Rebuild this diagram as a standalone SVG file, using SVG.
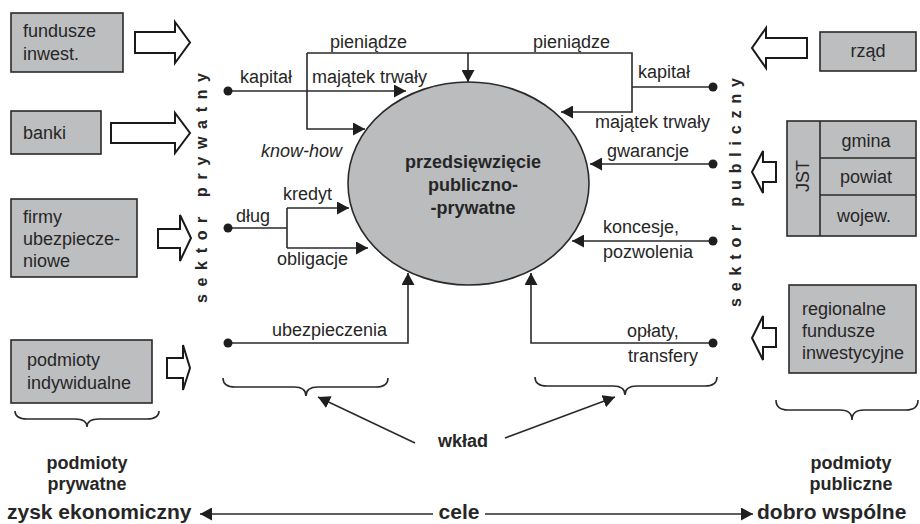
<svg xmlns="http://www.w3.org/2000/svg" width="920" height="524" viewBox="0 0 920 524">
  <defs>
    <marker id="tri" markerUnits="userSpaceOnUse" markerWidth="13" markerHeight="13" refX="12" refY="6.5" orient="auto">
      <path d="M0,0 L12,6.5 L0,13 Z" fill="#1e1e1e"/>
    </marker>
    <style>
      text { font-family: "Liberation Sans", Arial, sans-serif; fill: #262626; }
      .lbl { font-size: 18px; }
      .b { font-weight: bold; }
      .big { font-size: 21px; font-weight: bold; }
      .it { font-style: italic; }
      .mid { text-anchor: middle; }
      .end { text-anchor: end; }
      .sect { font-size: 16px; font-weight: bold; }
      .box { fill: #bdbec0; stroke: #2a2a2a; stroke-width: 1.6; }
      .barrow { fill: #ffffff; stroke: #1a1a1a; stroke-width: 2; stroke-linejoin: miter; }
      .ln { fill: none; stroke: #2a2a2a; stroke-width: 1.6; }
      .arr { marker-end: url(#tri); }
      .dot { fill: #1e1e1e; }
      .brace { fill: none; stroke: #2a2a2a; stroke-width: 1.6; }
    </style>
  </defs>
  <rect width="920" height="524" fill="#ffffff"/>

  <!-- private sector entities -->
  <g id="fundusze-inwest">
    <rect class="box" x="11" y="13" width="112" height="59"/>
    <text class="lbl" x="23" y="37">fundusze</text>
    <text class="lbl" x="23" y="60">inwest.</text>
    <polygon class="barrow" points="135,32 175,32 175,22 190,42.5 175,63 175,53 135,53"/>
  </g>
  <g id="banki">
    <rect class="box" x="11" y="111" width="90" height="43"/>
    <text class="lbl" x="23" y="139">banki</text>
    <polygon class="barrow" points="111,123 175,123 175,113 190,133 175,153 175,143 111,143"/>
  </g>
  <g id="firmy-ubezpieczeniowe">
    <rect class="box" x="11" y="199" width="126" height="78"/>
    <text class="lbl" x="23" y="223">firmy</text>
    <text class="lbl" x="23" y="245">ubezpiecze-</text>
    <text class="lbl" x="23" y="267">niowe</text>
    <polygon class="barrow" points="158,229 180,229 180,215 191,238 180,261 180,248 158,248"/>
  </g>
  <g id="podmioty-indywidualne">
    <rect class="box" x="11" y="340" width="141" height="63"/>
    <text class="lbl" x="27" y="366">podmioty</text>
    <text class="lbl" x="27" y="389">indywidualne</text>
    <polygon class="barrow" points="167,358 183,358 183,345 190,368 183,390 183,378 167,378"/>
  </g>

  <!-- public sector entities -->
  <g id="rzad">
    <rect class="box" x="820" y="32" width="96" height="39"/>
    <text class="lbl mid" x="868" y="57">rząd</text>
    <polygon class="barrow" points="807,38 766,38 766,28 752,48 766,68 766,58 807,58"/>
  </g>
  <g id="jst">
    <rect class="box" x="787" y="121" width="129" height="115"/>
    <line class="ln" x1="820" y1="121" x2="820" y2="236"/>
    <line class="ln" x1="820" y1="158" x2="916" y2="158"/>
    <line class="ln" x1="820" y1="195" x2="916" y2="195"/>
    <text class="lbl mid" transform="translate(809,176) rotate(-90)">JST</text>
    <text class="lbl mid" x="866" y="147">gmina</text>
    <text class="lbl mid" x="866" y="183">powiat</text>
    <text class="lbl mid" x="864" y="222">wojew.</text>
    <polygon class="barrow" points="776,162 763,162 763,151 752,172 763,193 763,182 776,182"/>
  </g>
  <g id="regionalne-fundusze">
    <rect class="box" x="789" y="285" width="127" height="88"/>
    <text class="lbl" x="802" y="315">regionalne</text>
    <text class="lbl" x="802" y="337">fundusze</text>
    <text class="lbl" x="802" y="359">inwestycyjne</text>
    <polygon class="barrow" points="776,328 763,328 763,316 752,338 763,360 763,347 776,347"/>
  </g>

  <!-- sector captions -->
  <g id="sektor-prywatny">
    <text class="sect" transform="translate(207,303) rotate(-90)" textLength="230" lengthAdjust="spacing">sektor prywatny</text>
  </g>
  <g id="sektor-publiczny">
    <text class="sect" transform="translate(741,307) rotate(-90)" textLength="229" lengthAdjust="spacing">sektor publiczny</text>
  </g>

  <!-- central project -->
  <g id="ppp">
    <ellipse cx="468.5" cy="183.5" rx="120.5" ry="101.5" fill="#bbbcbe" stroke="#2a2a2a" stroke-width="1.6"/>
    <text class="lbl b mid" x="473" y="168">przedsięwzięcie</text>
    <text class="lbl b mid" x="473" y="191">publiczno-</text>
    <text class="lbl b mid" x="473" y="214">-prywatne</text>
  </g>

  <!-- flows -->
  <g id="connectors">
    <path class="ln arr" d="M307,53 H632 V112 H561"/>
    <path class="ln arr" d="M468,53 V82"/>
    <path class="ln arr" d="M307,53 V129 H365"/>
    <path class="ln arr" d="M228,91 H406"/>
    <path class="ln" d="M632,87 H713"/>
    <path class="ln arr" d="M713,164 H590"/>
    <path class="ln arr" d="M713,241 H572"/>
    <path class="ln arr" d="M713,343 H531 V273"/>
    <path class="ln arr" d="M228,343 H408 V273"/>
    <path class="ln" d="M228,228 H287 M287,208 V248"/>
    <path class="ln arr" d="M287,208 H349"/>
    <path class="ln arr" d="M287,248 H368"/>
    <path class="ln arr" d="M415,443 L318,397"/>
    <path class="ln arr" d="M505,438 L615,397"/>
    <path class="ln arr" d="M433,514 H200"/>
    <path class="ln arr" d="M485,514 H753"/>
    <circle class="dot" cx="228" cy="91" r="4.5"/>
    <circle class="dot" cx="228" cy="228" r="4.5"/>
    <circle class="dot" cx="228" cy="343" r="4.5"/>
    <circle class="dot" cx="713" cy="87" r="4.5"/>
    <circle class="dot" cx="713" cy="164" r="4.5"/>
    <circle class="dot" cx="713" cy="241" r="4.5"/>
    <circle class="dot" cx="713" cy="343" r="4.5"/>
  </g>

  <!-- flow labels -->
  <g id="flow-labels">
    <text class="lbl" x="330" y="48">pieniądze</text>
    <text class="lbl" x="533" y="48">pieniądze</text>
    <text class="lbl" x="240" y="83">kapitał</text>
    <text class="lbl" x="312" y="83">majątek trwały</text>
    <text class="lbl" x="638" y="78">kapitał</text>
    <text class="lbl end" x="710" y="128">majątek trwały</text>
    <text class="lbl it" x="261" y="157">know-how</text>
    <text class="lbl" x="607" y="157">gwarancje</text>
    <text class="lbl" x="236" y="222">dług</text>
    <text class="lbl" x="283" y="200">kredyt</text>
    <text class="lbl" x="277" y="265">obligacje</text>
    <text class="lbl" x="603" y="233">koncesje,</text>
    <text class="lbl" x="603" y="258">pozwolenia</text>
    <text class="lbl" x="272" y="336">ubezpieczenia</text>
    <text class="lbl" x="627" y="337">opłaty,</text>
    <text class="lbl" x="628" y="362">transfery</text>
  </g>

  <!-- groupings -->
  <g id="braces">
    <path class="brace" d="M223,378 Q223,387 235,387 H294 Q306,387 306,396 Q306,387 318,387 H376 Q388,387 388,378"/>
    <path class="brace" d="M535,377 Q535,386 547,386 H613 Q625,386 625,395 Q625,386 637,386 H705 Q717,386 717,377"/>
    <path class="brace" d="M15,411 Q15,419 27,419 H75 Q87,419 87,427 Q87,419 99,419 H147 Q159,419 159,411"/>
    <path class="brace" d="M776,400 Q776,410 788,410 H840 Q852,410 852,420 Q852,410 864,410 H906 Q918,410 918,400"/>
  </g>

  <g id="wklad">
    <text class="lbl b mid" x="463" y="447">wkład</text>
  </g>
  <g id="podmioty-prywatne">
    <text class="lbl b mid" x="87" y="469">podmioty</text>
    <text class="lbl b mid" x="87" y="490">prywatne</text>
  </g>
  <g id="podmioty-publiczne">
    <text class="lbl b mid" x="851" y="469">podmioty</text>
    <text class="lbl b mid" x="851" y="490">publiczne</text>
  </g>

  <!-- goals axis -->
  <g id="cele">
    <text class="big" x="7" y="519">zysk ekonomiczny</text>
    <text class="big mid" x="459" y="519">cele</text>
    <text class="big" x="757" y="519">dobro wspólne</text>
  </g>
</svg>
